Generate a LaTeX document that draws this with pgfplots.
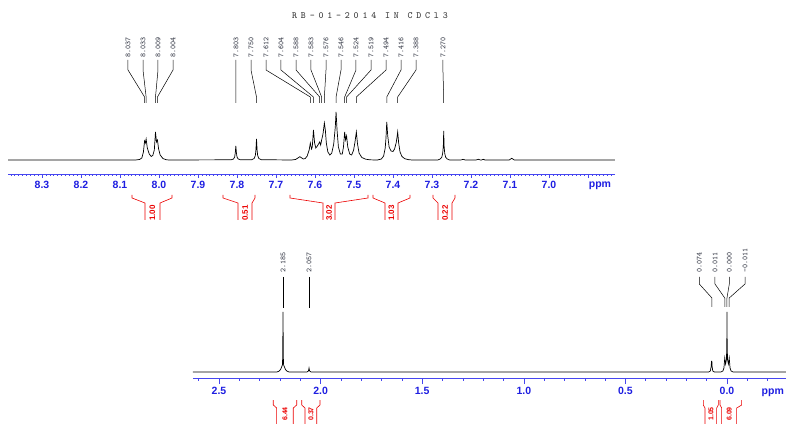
\documentclass[border=0pt]{standalone}
\usepackage{fontspec}
\setmainfont{Liberation Sans}
\newfontfamily\titlefont{Latin Modern Mono}[LetterSpace=40.0]
\usepackage{pgfplots}
\pgfplotsset{compat=1.18}
\definecolor{axblue}{RGB}{70,70,240}
\definecolor{tkblue}{RGB}{30,30,225}
\definecolor{intred}{RGB}{235,0,0}
\definecolor{lbl}{RGB}{40,44,58}
\tikzset{
  plbl/.style={rotate=90, anchor=west, inner sep=0pt, font=\ttfamily\fontsize{7.6}{8}\selectfont, text=lbl},
  ilbl/.style={rotate=90, anchor=east, inner sep=0pt, font=\bfseries\fontsize{8}{9}\selectfont, text=intred},
  ilblb/.style={rotate=90, anchor=east, inner sep=0pt, font=\bfseries\fontsize{7}{8}\selectfont, text=intred},
}
\pgfplotsset{
  nmr/.style={
    scale only axis, anchor=south west, clip=false, x dir=reverse,
    axis x line*=bottom, axis y line=none,
    x axis line style={axblue, line width=0.7pt, -},
    tick align=outside,
    tick style={axblue, line width=0.6pt},
    minor tick style={axblue, line width=0.5pt},
    xticklabel style={font=\bfseries\fontsize{10.5}{12}\selectfont, text=tkblue},
  },
  spec/.style={black, line width=0.7pt},
  pline/.style={black, line width=0.5pt},
  iline/.style={intred, line width=0.6pt},
}
\begin{document}
\begin{tikzpicture}
\useasboundingbox (0,0) rectangle (786pt,423pt);
% ---------------- top panel: aromatic region ----------------
\begin{axis}[nmr,
  at={(8pt,249pt)}, width=607pt, height=144pt,
  xmin=6.8308, xmax=8.3872, ymin=0, ymax=144,
  major tick length=4pt, minor tick length=2pt,
  xtick={6.9,7.0,7.1,7.2,7.3,7.4,7.5,7.6,7.7,7.8,7.9,8.0,8.1,8.2,8.3},
  xticklabels={,7.0,7.1,7.2,7.3,7.4,7.5,7.6,7.7,7.8,7.9,8.0,8.1,8.2,8.3},
  minor xtick={6.84,6.85,...,8.38},
]
\addplot[spec] coordinates {
(8.387,14) (8.060,14) (8.050,14.5) (8.044,16) (8.040,22) (8.037,33) (8.035,31) (8.033,35)
(8.030,26) (8.025,20) (8.020,17.5) (8.016,18.5) (8.012,24) (8.009,42) (8.0065,32) (8.004,34)
(8.001,25) (7.997,19) (7.990,15.5) (7.982,14.3) (7.975,14)
(7.815,14.2) (7.809,15) (7.806,17) (7.8045,21) (7.803,28) (7.8015,21) (7.800,17) (7.797,15) (7.791,14.2)
(7.762,14.3) (7.756,15.5) (7.753,18.5) (7.7515,24) (7.750,35) (7.7485,24) (7.747,18.5) (7.744,15.5) (7.738,14.3)
(7.660,14) (7.650,14.5) (7.643,16.2) (7.639,17.3) (7.635,16.3) (7.630,15) (7.625,15.5) (7.620,18)
(7.615,24) (7.612,31) (7.609,25) (7.607,27) (7.604,44) (7.601,31) (7.598,26) (7.594,28) (7.591,30)
(7.588,32) (7.5855,29) (7.583,34) (7.5795,40) (7.576,51) (7.5735,44) (7.571,31) (7.567,22) (7.562,19)
(7.557,21) (7.552,30) (7.548,47) (7.546,62) (7.5435,44) (7.540,27) (7.535,20) (7.530,20) (7.527,27)
(7.524,42) (7.5215,34) (7.519,38) (7.516,27) (7.511,20) (7.506,19) (7.501,24) (7.4975,32) (7.494,42)
(7.491,30) (7.487,21) (7.480,16.5) (7.470,14.8) (7.460,14.2) (7.445,14)
(7.440,14) (7.430,15) (7.424,18) (7.420,26) (7.418,36) (7.416,52) (7.4135,38) (7.410,27) (7.405,23)
(7.400,22.5) (7.396,25) (7.392,31) (7.390,36) (7.388,42) (7.3855,31) (7.382,22) (7.377,17.5)
(7.370,15.3) (7.360,14.3) (7.350,14)
(7.285,14) (7.279,15) (7.275,16.7) (7.2725,21) (7.271,28) (7.270,43) (7.269,28) (7.2675,21) (7.265,16.7) (7.261,15) (7.255,14)
(7.226,14) (7.2205,14.7) (7.215,14) (7.187,14) (7.1813,14.7) (7.176,14) (7.173,14) (7.1685,14.7) (7.164,14)
(7.102,14) (7.0957,15.7) (7.089,14) (6.831,14)
};
% peak-pick lines
\addplot[pline] coordinates {(8.0795,114) (8.0795,104) (8.037,77) (8.037,71)};
\addplot[pline] coordinates {(8.0410,114) (8.0410,104) (8.033,77) (8.033,71)};
\addplot[pline] coordinates {(8.0026,114) (8.0026,104) (8.009,77) (8.009,71)};
\addplot[pline] coordinates {(7.9641,114) (7.9641,104) (8.004,77) (8.004,71)};
\addplot[pline] coordinates {(7.8026,114) (7.8026,104) (7.803,77) (7.803,71)};
\addplot[pline] coordinates {(7.7641,114) (7.7641,104) (7.750,77) (7.750,71)};
\addplot[pline] coordinates {(7.7256,114) (7.7256,104) (7.612,77) (7.612,71)};
\addplot[pline] coordinates {(7.6872,114) (7.6872,104) (7.604,77) (7.604,71)};
\addplot[pline] coordinates {(7.6487,114) (7.6487,104) (7.588,77) (7.588,71)};
\addplot[pline] coordinates {(7.6103,114) (7.6103,104) (7.583,77) (7.583,71)};
\addplot[pline] coordinates {(7.5718,114) (7.5718,104) (7.576,77) (7.576,71)};
\addplot[pline] coordinates {(7.5333,114) (7.5333,104) (7.546,77) (7.546,71)};
\addplot[pline] coordinates {(7.4949,114) (7.4949,104) (7.524,77) (7.524,71)};
\addplot[pline] coordinates {(7.4564,114) (7.4564,104) (7.519,77) (7.519,71)};
\addplot[pline] coordinates {(7.4179,114) (7.4179,104) (7.494,77) (7.494,71)};
\addplot[pline] coordinates {(7.3795,114) (7.3795,104) (7.416,77) (7.416,71)};
\addplot[pline] coordinates {(7.3410,114) (7.3410,104) (7.388,77) (7.388,71)};
\addplot[pline] coordinates {(7.2720,114) (7.2720,104) (7.270,77) (7.270,71)};
\node[plbl] at (axis cs:8.0795,116) {8.037};
\node[plbl] at (axis cs:8.0410,116) {8.033};
\node[plbl] at (axis cs:8.0026,116) {8.009};
\node[plbl] at (axis cs:7.9641,116) {8.004};
\node[plbl] at (axis cs:7.8026,116) {7.803};
\node[plbl] at (axis cs:7.7641,116) {7.750};
\node[plbl] at (axis cs:7.7256,116) {7.612};
\node[plbl] at (axis cs:7.6872,116) {7.604};
\node[plbl] at (axis cs:7.6487,116) {7.588};
\node[plbl] at (axis cs:7.6103,116) {7.583};
\node[plbl] at (axis cs:7.5718,116) {7.576};
\node[plbl] at (axis cs:7.5333,116) {7.546};
\node[plbl] at (axis cs:7.4949,116) {7.524};
\node[plbl] at (axis cs:7.4564,116) {7.519};
\node[plbl] at (axis cs:7.4179,116) {7.494};
\node[plbl] at (axis cs:7.3795,116) {7.416};
\node[plbl] at (axis cs:7.3410,116) {7.388};
\node[plbl] at (axis cs:7.2720,116) {7.270};
% title
\node[font=\titlefont\fontsize{9.5}{10}\selectfont, text=black!80, inner sep=0pt] at (axis cs:7.459,158) {RB-01-2014 IN CDCl3};
% ppm
\node[font=\bfseries\fontsize{10.5}{12}\selectfont, text=tkblue, inner sep=0pt] at (axis cs:6.8693,-12) {ppm};
% integrals
\addplot[iline] coordinates {(8.0692,-21) (8.0692,-24) (8.0359,-29) (8.0359,-46)};
\addplot[iline] coordinates {(7.9974,-46) (7.9974,-29) (7.9667,-24) (7.9667,-21)};
\node[ilbl] at (axis cs:8.0167,-31) {1.00};
\addplot[iline] coordinates {(7.8359,-21) (7.8359,-24) (7.7974,-29) (7.7974,-46)};
\addplot[iline] coordinates {(7.7615,-46) (7.7615,-29) (7.7538,-24) (7.7538,-21)};
\node[ilbl] at (axis cs:7.7795,-31) {0.51};
\addplot[iline] coordinates {(7.6641,-21) (7.6641,-24) (7.5795,-29) (7.5795,-46)};
\addplot[iline] coordinates {(7.5487,-46) (7.5487,-29) (7.4641,-24) (7.4641,-21)};
\node[ilbl] at (axis cs:7.5641,-31) {3.02};
\addplot[iline] coordinates {(7.4513,-21) (7.4513,-24) (7.4205,-29) (7.4205,-46)};
\addplot[iline] coordinates {(7.3872,-46) (7.3872,-29) (7.3564,-24) (7.3564,-21)};
\node[ilbl] at (axis cs:7.4039,-31) {1.03};
\addplot[iline] coordinates {(7.2974,-21) (7.2974,-24) (7.2846,-29) (7.2846,-46)};
\addplot[iline] coordinates {(7.2487,-46) (7.2487,-29) (7.2410,-24) (7.2410,-21)};
\node[ilbl] at (axis cs:7.2667,-31) {0.22};
\end{axis}
% ---------------- bottom panel: aliphatic region ----------------
\begin{axis}[nmr,
  at={(193pt,45pt)}, width=593pt, height=138pt,
  xmin=-0.2904, xmax=2.628, ymin=0, ymax=138,
  major tick length=6pt, minor tick length=2.5pt,
  xtick={0,0.5,1,1.5,2,2.5},
  xticklabels={0.0,0.5,1.0,1.5,2.0,2.5},
  minor xtick={-0.2,-0.1,...,2.6},
]
\addplot[spec] coordinates {
(2.628,6) (2.215,6) (2.205,6.8) (2.197,8.5) (2.192,11) (2.188,13) (2.1865,21) (2.185,66)
(2.1835,21) (2.182,13) (2.178,11) (2.173,8.5) (2.165,6.8) (2.155,6)
(2.067,6) (2.060,7) (2.057,10) (2.054,7) (2.047,6)
(0.090,6) (0.082,7) (0.0775,12) (0.0765,17) (0.0755,12) (0.0745,17) (0.0735,12) (0.070,7) (0.062,6)
(0.030,6) (0.020,7) (0.015,10) (0.011,20) (0.007,14) (0.003,18) (0.001,30) (0.000,66)
(-0.001,30) (-0.003,18) (-0.007,14) (-0.011,20) (-0.015,10) (-0.020,7) (-0.030,6) (-0.2904,6)
};
\addplot[pline] coordinates {(2.185,101) (2.185,70)};
\addplot[pline] coordinates {(2.057,101) (2.057,70)};
\addplot[pline] coordinates {(0.1363,101) (0.1363,94) (0.074,80) (0.074,71)};
\addplot[pline] coordinates {(0.0591,101) (0.0591,94) (0.011,80) (0.011,71)};
\addplot[pline] coordinates {(-0.0113,101) (-0.0113,94) (0.000,80) (0.000,71)};
\addplot[pline] coordinates {(-0.0886,101) (-0.0886,94) (-0.011,80) (-0.011,71)};
\node[plbl] at (axis cs:2.185,105) {2.185};
\node[plbl] at (axis cs:2.057,105) {2.057};
\node[plbl] at (axis cs:0.1363,105) {0.074};
\node[plbl] at (axis cs:0.0591,105) {0.011};
\node[plbl] at (axis cs:-0.0113,105) {0.000};
\node[plbl] at (axis cs:-0.0886,105) {-0.011};
\node[font=\bfseries\fontsize{10.5}{12}\selectfont, text=tkblue, inner sep=0pt, anchor=west] at (axis cs:-0.170,-15) {ppm};
% integrals
\addplot[iline] coordinates {(2.2328,-22) (2.2328,-27) (2.2161,-30) (2.2161,-50)};
\addplot[iline] coordinates {(2.1344,-50) (2.1344,-30) (2.1176,-27) (2.1176,-22)};
\node[ilblb] at (axis cs:2.1753,-29) {6.44};
\addplot[iline] coordinates {(2.0930,-22) (2.0930,-27) (2.0768,-30) (2.0768,-50)};
\addplot[iline] coordinates {(2.0192,-50) (2.0192,-30) (2.0030,-27) (2.0030,-22)};
\node[ilblb] at (axis cs:2.048,-29) {0.37};
\addplot[iline] coordinates {(0.1166,-22) (0.1166,-27) (0.1083,-30) (0.1083,-50)};
\addplot[iline] coordinates {(0.0507,-50) (0.0507,-30) (0.0428,-27) (0.0428,-22)};
\node[ilblb] at (axis cs:0.0795,-29) {1.05};
\addplot[iline] coordinates {(0.0344,-22) (0.0344,-27) (0.0261,-30) (0.0261,-50)};
\addplot[iline] coordinates {(-0.0477,-50) (-0.0477,-30) (-0.0723,-27) (-0.0723,-22)};
\node[ilblb] at (axis cs:-0.0108,-29) {6.09};
\end{axis}
\end{tikzpicture}
\end{document}
